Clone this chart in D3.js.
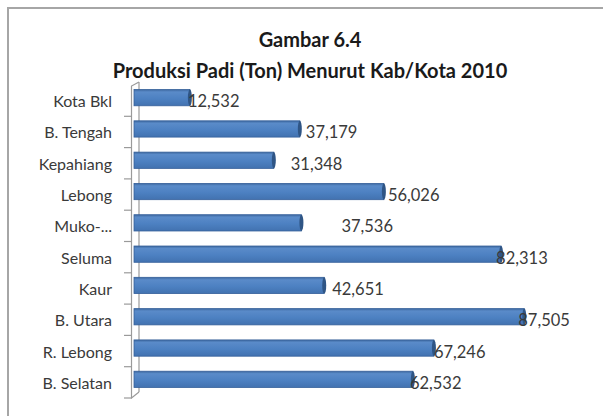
<!DOCTYPE html>
<html>
<head>
<meta charset="utf-8">
<script src="https://cdn.jsdelivr.net/npm/d3@7"></script>
<style>
  body { margin: 0; background: #fff; }
  svg { display: block; }
  .title { font-family: Lato, "Open Sans", sans-serif; font-weight: bold; fill: #1a1a1a; }
  .catLabel, .valLabel { font-family: Lato, "Open Sans", sans-serif; fill: #3a3a3a; }
  .catLabel { font-size: 16px; }
  .valLabel { font-size: 16.5px; }
</style>
</head>
<body>
<div id="chart"></div>
<script>
// kabupaten / kota, top to bottom as drawn
var categories = ["Kota Bkl", "B. Tengah", "Kepahiang", "Lebong", "Muko-...", "Seluma", "Kaur", "B. Utara", "R. Lebong", "B. Selatan"];
var production = [12532, 37179, 31348, 56026, 37536, 82313, 42651, 87505, 67246, 62532];
// the original excel labels did not sit at the same distance from each bar
var labelNudge = [-2, 6, 17, 4, 40, -5, 8, -6, 0, -3];
var titleLines = ["Gambar 6.4", "Produksi Padi (Ton) Menurut Kab/Kota 2010"];

var W = 603, H = 416;
var margin = {top: 82, left: 134, bottom: 21};

var svg = d3.select("#chart").append("svg")
    .attr("width", W)
    .attr("height", H);

var defs = svg.append("defs");
var grad = defs.append("linearGradient")
    .attr("id", "barGrad")
    .attr("x1", 0).attr("y1", 0).attr("x2", 0).attr("y2", 1);
grad.append("stop").attr("offset", "0%").attr("stop-color", "#3c679e");
grad.append("stop").attr("offset", "15%").attr("stop-color", "#5a8bc9");
grad.append("stop").attr("offset", "55%").attr("stop-color", "#4d81c2");
grad.append("stop").attr("offset", "100%").attr("stop-color", "#4272b0");

// outer frame (only top and left show in the crop)
svg.append("path")
    .attr("d", "M8," + H + "V8H" + W)
    .attr("fill", "none")
    .attr("stroke", "#a6a6a6")
    .attr("stroke-width", 2);

svg.selectAll(".title")
    .data(titleLines)
    .enter()
    .append("text")
    .attr("class", "title")
    .attr("x", 310)
    .attr("y", function(d, i) { return i === 0 ? 47 : 78; })
    .attr("text-anchor", "middle")
    .style("font-size", "20px")
    .text(function(d) { return d; });

var xScale = d3.scaleLinear()
    .domain([0, 100000])
    .range([margin.left, margin.left + 446]);

var yScale = d3.scaleBand()
    .domain(categories)
    .range([margin.top, H - margin.bottom])
    .paddingInner(0.48)
    .paddingOuter(0.24);

var step = yScale.step();
var y0 = margin.top, y1 = H - margin.bottom;

// 3d wall: back line, front line and the little corners
var wall = svg.append("g").attr("fill", "none").attr("stroke", "#9a9a9a").attr("stroke-width", 1.2);
wall.append("line").attr("x1", 139).attr("x2", 139).attr("y1", y0).attr("y2", y1 - 3);
wall.append("path").attr("d", "M139," + y0 + "L131.5," + (y0 + 4) + "V" + (y1 + 3) + "L139," + (y1 - 3));

// tick marks between categories
wall.selectAll(".tick")
    .data(d3.range(categories.length))
    .enter()
    .append("line")
    .attr("x1", 124)
    .attr("x2", 131.5)
    .attr("y1", function(i) { return y0 + 4 + step * (i + 1) - 1; })
    .attr("y2", function(i) { return y0 + 4 + step * (i + 1) - 1; });

var bars = svg.selectAll(".bar")
    .data(production)
    .enter()
    .append("g")
    .attr("class", "bar");

bars.append("rect")
    .attr("x", xScale(0))
    .attr("y", function(d, i) { return yScale(categories[i]); })
    .attr("width", function(d) { return xScale(d) - xScale(0); })
    .attr("height", yScale.bandwidth())
    .attr("fill", "url(#barGrad)")
    .attr("stroke", "#35609a")
    .attr("stroke-width", 0.8);

// darker rounded end cap
bars.append("ellipse")
    .attr("cx", function(d) { return xScale(d); })
    .attr("cy", function(d, i) { return yScale(categories[i]) + yScale.bandwidth() / 2; })
    .attr("rx", 2)
    .attr("ry", yScale.bandwidth() / 2)
    .attr("fill", "#2f5585");

svg.selectAll(".valLabel")
    .data(production)
    .enter()
    .append("text")
    .attr("class", "valLabel")
    .attr("x", function(d, i) { return xScale(d) + labelNudge[i]; })
    .attr("y", function(d, i) { return yScale(categories[i]) + yScale.bandwidth() / 2 + 9.5; })
    .text(function(d) { return d3.format(",")(d); });

svg.selectAll(".catLabel")
    .data(categories)
    .enter()
    .append("text")
    .attr("class", "catLabel")
    .attr("x", 112)
    .attr("y", function(d) { return yScale(d) + yScale.bandwidth() / 2 + 9.5; })
    .attr("text-anchor", "end")
    .text(function(d) { return d; });
</script>
</body>
</html>
